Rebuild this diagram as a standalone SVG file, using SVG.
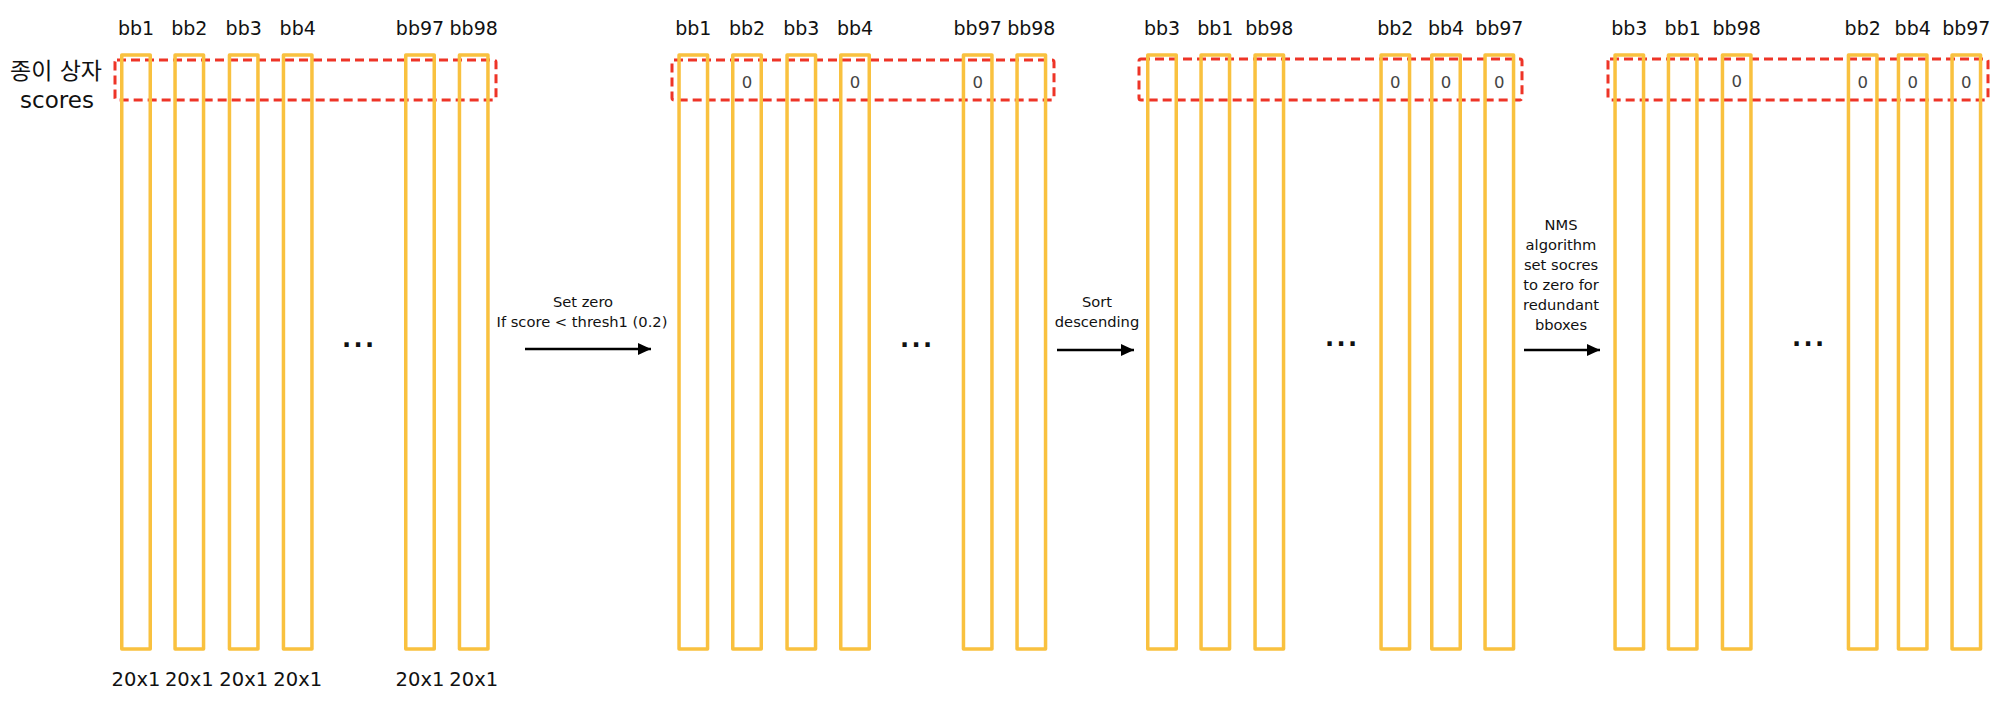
<svg xmlns="http://www.w3.org/2000/svg" width="2002" height="716" viewBox="0 0 2002 716">
<style>
.bar{fill:none;stroke:#F9C13F;stroke-width:3.5;stroke-linejoin:round}
.sel{fill:none;stroke:#EE3427;stroke-width:3;stroke-dasharray:9 5}
.lbl{font-family:"DejaVu Sans","Noto Sans CJK KR",sans-serif;font-size:19px;fill:#111;text-anchor:middle}
.dim{font-family:"DejaVu Sans","Noto Sans CJK KR",sans-serif;font-size:19.5px;fill:#111;text-anchor:middle}
.zero{font-family:"DejaVu Sans",sans-serif;font-size:16.5px;fill:#444;text-anchor:middle}
.side{font-family:"DejaVu Sans","Noto Sans CJK KR",sans-serif;font-size:23px;fill:#111;text-anchor:middle}
.op{font-family:"DejaVu Sans",sans-serif;font-size:14.7px;fill:#111;text-anchor:middle}
.dots{font-family:"DejaVu Sans",sans-serif;font-weight:bold;font-size:24px;letter-spacing:2.4px;fill:#111}
.arr{stroke:#000;stroke-width:2.5;fill:none}
</style>
<defs>
<marker id="ah" markerUnits="userSpaceOnUse" markerWidth="14" markerHeight="12" refX="13" refY="6" orient="auto">
<path d="M0,0 L13,6 L0,12 z" fill="#000"/>
</marker>
</defs>

<g id="side-label">
<text class="side" x="56" y="79">종이 상자</text>
<text class="side" x="57" y="108">scores</text>
</g>

<!-- Group 1 -->
<g id="g1">
<rect id="g1-sel" class="sel" x="115" y="60" width="381" height="40" rx="2"/>
<g id="g1-bb1"><rect class="bar" x="121.75" y="55" width="28.5" height="594"/><text class="lbl" x="136" y="35">bb1</text><text class="dim" x="136" y="686">20x1</text></g>
<g id="g1-bb2"><rect class="bar" x="175.05" y="55" width="28.5" height="594"/><text class="lbl" x="189.3" y="35">bb2</text><text class="dim" x="189.3" y="686">20x1</text></g>
<g id="g1-bb3"><rect class="bar" x="229.45" y="55" width="28.5" height="594"/><text class="lbl" x="243.7" y="35">bb3</text><text class="dim" x="243.7" y="686">20x1</text></g>
<g id="g1-bb4"><rect class="bar" x="283.45" y="55" width="28.5" height="594"/><text class="lbl" x="297.7" y="35">bb4</text><text class="dim" x="297.7" y="686">20x1</text></g>
<g id="g1-bb97"><rect class="bar" x="405.75" y="55" width="28.5" height="594"/><text class="lbl" x="420" y="35">bb97</text><text class="dim" x="420" y="686">20x1</text></g>
<g id="g1-bb98"><rect class="bar" x="459.45" y="55" width="28.5" height="594"/><text class="lbl" x="473.7" y="35">bb98</text><text class="dim" x="473.7" y="686">20x1</text></g>
<text class="dots" x="342" y="347">...</text>
</g>

<!-- Group 2 -->
<g id="g2">
<rect id="g2-sel" class="sel" x="672" y="60" width="382" height="40" rx="2"/>
<g id="g2-bb1"><rect class="bar" x="679.05" y="55" width="28.5" height="594"/><text class="lbl" x="693.3" y="35">bb1</text></g>
<g id="g2-bb2"><rect class="bar" x="732.75" y="55" width="28.5" height="594"/><text class="lbl" x="747" y="35">bb2</text><text class="zero" x="747" y="88">0</text></g>
<g id="g2-bb3"><rect class="bar" x="787.05" y="55" width="28.5" height="594"/><text class="lbl" x="801.3" y="35">bb3</text></g>
<g id="g2-bb4"><rect class="bar" x="840.75" y="55" width="28.5" height="594"/><text class="lbl" x="855" y="35">bb4</text><text class="zero" x="855" y="88">0</text></g>
<g id="g2-bb97"><rect class="bar" x="963.45" y="55" width="28.5" height="594"/><text class="lbl" x="977.7" y="35">bb97</text><text class="zero" x="977.7" y="88">0</text></g>
<g id="g2-bb98"><rect class="bar" x="1017.05" y="55" width="28.5" height="594"/><text class="lbl" x="1031.3" y="35">bb98</text></g>
<text class="dots" x="900" y="347">...</text>
</g>

<!-- Group 3 -->
<g id="g3">
<rect id="g3-sel" class="sel" x="1139" y="59" width="383" height="41" rx="2"/>
<g id="g3-bb3"><rect class="bar" x="1147.75" y="55" width="28.5" height="594"/><text class="lbl" x="1162" y="35">bb3</text></g>
<g id="g3-bb1"><rect class="bar" x="1201.05" y="55" width="28.5" height="594"/><text class="lbl" x="1215.3" y="35">bb1</text></g>
<g id="g3-bb98"><rect class="bar" x="1255.05" y="55" width="28.5" height="594"/><text class="lbl" x="1269.3" y="35">bb98</text></g>
<g id="g3-bb2"><rect class="bar" x="1381.05" y="55" width="28.5" height="594"/><text class="lbl" x="1395.3" y="35">bb2</text><text class="zero" x="1395.3" y="88">0</text></g>
<g id="g3-bb4"><rect class="bar" x="1431.75" y="55" width="28.5" height="594"/><text class="lbl" x="1446" y="35">bb4</text><text class="zero" x="1446" y="88">0</text></g>
<g id="g3-bb97"><rect class="bar" x="1485.05" y="55" width="28.5" height="594"/><text class="lbl" x="1499.3" y="35">bb97</text><text class="zero" x="1499.3" y="88">0</text></g>
<text class="dots" x="1325" y="346">...</text>
</g>

<!-- Group 4 -->
<g id="g4">
<rect id="g4-sel" class="sel" x="1608" y="59" width="380" height="41" rx="2"/>
<g id="g4-bb3"><rect class="bar" x="1615.05" y="55" width="28.5" height="594"/><text class="lbl" x="1629.3" y="35">bb3</text></g>
<g id="g4-bb1"><rect class="bar" x="1668.45" y="55" width="28.5" height="594"/><text class="lbl" x="1682.7" y="35">bb1</text></g>
<g id="g4-bb98"><rect class="bar" x="1722.45" y="55" width="28.5" height="594"/><text class="lbl" x="1736.7" y="35">bb98</text><text class="zero" x="1736.7" y="87">0</text></g>
<g id="g4-bb2"><rect class="bar" x="1848.45" y="55" width="28.5" height="594"/><text class="lbl" x="1862.7" y="35">bb2</text><text class="zero" x="1862.7" y="88">0</text></g>
<g id="g4-bb4"><rect class="bar" x="1898.45" y="55" width="28.5" height="594"/><text class="lbl" x="1912.7" y="35">bb4</text><text class="zero" x="1912.7" y="88">0</text></g>
<g id="g4-bb97"><rect class="bar" x="1952.05" y="55" width="28.5" height="594"/><text class="lbl" x="1966.3" y="35">bb97</text><text class="zero" x="1966.3" y="88">0</text></g>
<text class="dots" x="1792" y="346">...</text>
</g>

<!-- Connectors -->
<g id="connectors">
<g id="c1">
<line class="arr" x1="525" y1="349" x2="651" y2="349" marker-end="url(#ah)"/>
<text class="op" x="583" y="307">Set zero</text>
<text class="op" x="582" y="327">If score &lt; thresh1 (0.2)</text>
</g>
<g id="c2">
<line class="arr" x1="1057" y1="350" x2="1134" y2="350" marker-end="url(#ah)"/>
<text class="op" x="1097" y="307">Sort</text>
<text class="op" x="1097" y="327">descending</text>
</g>
<g id="c3">
<line class="arr" x1="1524" y1="350" x2="1600" y2="350" marker-end="url(#ah)"/>
<text class="op" x="1561" y="230">NMS</text>
<text class="op" x="1561" y="250">algorithm</text>
<text class="op" x="1561" y="270">set socres</text>
<text class="op" x="1561" y="290">to zero for</text>
<text class="op" x="1561" y="310">redundant</text>
<text class="op" x="1561" y="330">bboxes</text>
</g>
</g>
</svg>
